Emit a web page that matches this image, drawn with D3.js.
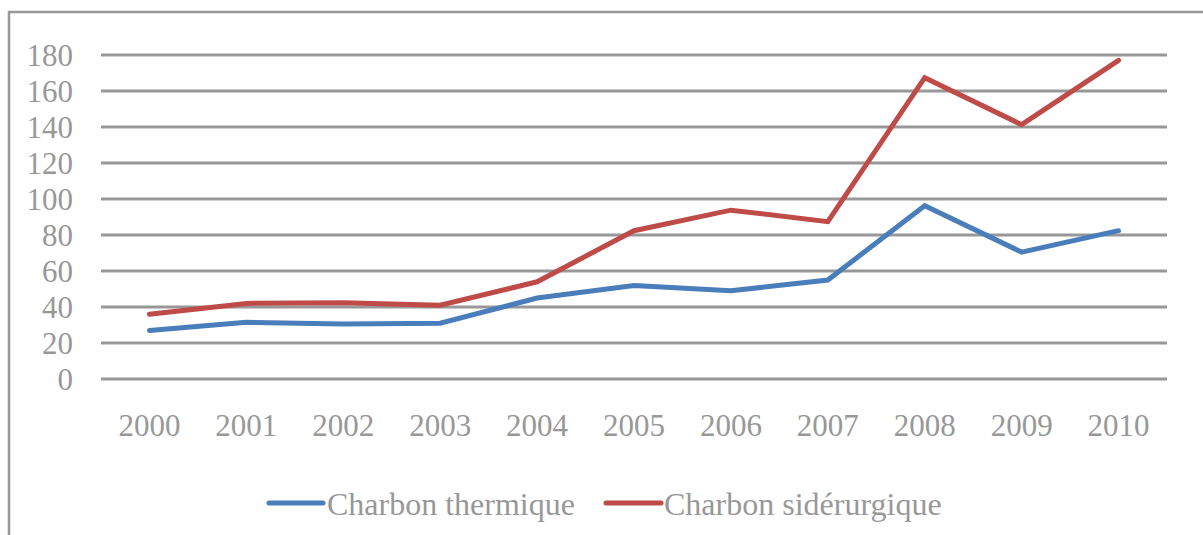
<!DOCTYPE html>
<html>
<head>
<meta charset="utf-8">
<script src="https://cdn.jsdelivr.net/npm/d3@7"></script>
<style>
  body { margin: 0; background: #fff; }
  svg { display: block; }
</style>
</head>
<body>
<div id="chart"></div>
<script>
// Données
var annees = ["2000","2001","2002","2003","2004","2005","2006","2007","2008","2009","2010"];
var thermique = [27, 31.5, 30.5, 31, 45, 52, 49, 55, 96.3, 70.5, 82.4];
var siderurgique = [36, 42, 42.3, 41, 54, 82.4, 93.8, 87.4, 167.4, 141.3, 177];
var yTicks = [0, 20, 40, 60, 80, 100, 120, 140, 160, 180];
var series = [
  { name: "Charbon thermique", values: thermique, color: "#4a7ebb" },
  { name: "Charbon sidérurgique", values: siderurgique, color: "#be4b48" }
];

var W = 1203, H = 535;
var police = "'Liberation Serif', 'Times New Roman', Times, serif";
var gris = "#989898";

var svg = d3.select("#chart").append("svg")
  .attr("width", W).attr("height", H)
  .attr("font-family", police);

// cadre du graphique (dépasse à droite et en bas)
svg.append("rect")
  .attr("x", 9).attr("y", 12)
  .attr("width", W + 20).attr("height", H + 20)
  .attr("fill", "none")
  .attr("stroke", gris)
  .attr("stroke-width", 2.5);

var x = d3.scaleBand().domain(annees).range([101, 1167]);
var y = d3.scaleLinear().domain([0, 180]).range([379, 55]);

// grille horizontale
svg.append("g").selectAll("line")
  .data(yTicks).enter().append("line")
  .attr("x1", 101).attr("x2", 1167)
  .attr("y1", function(d){ return y(d); })
  .attr("y2", function(d){ return y(d); })
  .attr("stroke", gris)
  .attr("stroke-width", 2.8);

// étiquettes de l'axe Y
svg.append("g").selectAll("text")
  .data(yTicks).enter().append("text")
  .attr("x", 73)
  .attr("y", function(d){ return y(d); })
  .attr("dy", "0.35em")
  .attr("text-anchor", "end")
  .attr("font-size", 31)
  .attr("fill", gris)
  .text(function(d){ return d; });

// étiquettes de l'axe X
svg.append("g").selectAll("text")
  .data(annees).enter().append("text")
  .attr("x", function(d){ return x(d) + x.bandwidth() / 2; })
  .attr("y", 436)
  .attr("text-anchor", "middle")
  .attr("font-size", 31)
  .attr("fill", gris)
  .text(function(d){ return d; });

var line = d3.line()
  .x(function(d, i){ return x(annees[i]) + x.bandwidth() / 2; })
  .y(function(d){ return y(d); });

series.forEach(function(s){
  svg.append("path")
    .datum(s.values)
    .attr("d", line)
    .attr("fill", "none")
    .attr("stroke", s.color)
    .attr("stroke-width", 5)
    .attr("stroke-linecap", "round")
    .attr("stroke-linejoin", "miter");
});

// légende
var legendPos = [{ x1: 269, x2: 323, tx: 327 }, { x1: 606, x2: 661, tx: 664 }];
series.forEach(function(s, i){
  var p = legendPos[i];
  svg.append("line")
    .attr("x1", p.x1).attr("x2", p.x2)
    .attr("y1", 503).attr("y2", 503)
    .attr("stroke", s.color)
    .attr("stroke-width", 5)
    .attr("stroke-linecap", "round");
  svg.append("text")
    .attr("x", p.tx).attr("y", 515)
    .attr("font-size", 32)
    .attr("fill", gris)
    .text(s.name);
});
</script>
</body>
</html>
